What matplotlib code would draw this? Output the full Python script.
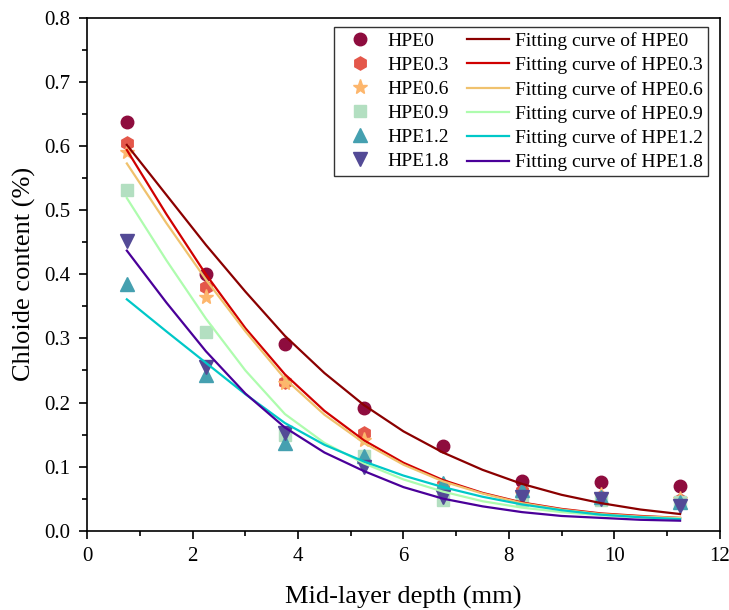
import numpy as np
import matplotlib.pyplot as plt

# measured chloride content (%) at mid-layer depths (mm)
depth = [0.75, 2.25, 3.75, 5.25, 6.75, 8.25, 9.75, 11.25]
hpe0 = [0.638, 0.400, 0.291, 0.191, 0.132, 0.077, 0.076, 0.070]
hpe03 = [0.605, 0.381, 0.232, 0.152, 0.072, 0.062, 0.052, 0.048]
hpe06 = [0.591, 0.365, 0.230, 0.141, 0.070, 0.057, 0.055, 0.050]
hpe09 = [0.531, 0.310, 0.150, 0.116, 0.048, 0.048, 0.048, 0.045]
hpe12 = [0.385, 0.243, 0.137, 0.117, 0.074, 0.063, 0.052, 0.045]
hpe18 = [0.452, 0.255, 0.153, 0.100, 0.053, 0.053, 0.050, 0.039]

# fitting curves
fit_x = [0.75, 1.5, 2.25, 3.0, 3.75, 4.5, 5.25, 6.0, 6.75, 7.5, 8.25, 9.0, 9.75, 10.5, 11.25]
fit0 = [0.602, 0.524, 0.446, 0.373, 0.304, 0.246, 0.196, 0.155, 0.122, 0.095, 0.073, 0.056, 0.043, 0.033, 0.026]
fit03 = [0.594, 0.494, 0.400, 0.316, 0.244, 0.187, 0.141, 0.106, 0.079, 0.059, 0.044, 0.034, 0.027, 0.023, 0.020]
fit06 = [0.573, 0.480, 0.392, 0.311, 0.237, 0.181, 0.137, 0.103, 0.077, 0.058, 0.043, 0.033, 0.026, 0.022, 0.020]
fit09 = [0.519, 0.422, 0.331, 0.250, 0.182, 0.137, 0.105, 0.080, 0.061, 0.046, 0.036, 0.029, 0.024, 0.021, 0.019]
fit12 = [0.361, 0.311, 0.262, 0.213, 0.168, 0.134, 0.108, 0.086, 0.068, 0.053, 0.041, 0.032, 0.025, 0.021, 0.018]
fit18 = [0.437, 0.356, 0.280, 0.214, 0.161, 0.122, 0.093, 0.068, 0.050, 0.038, 0.029, 0.023, 0.020, 0.017, 0.0156]

names = ['HPE0', 'HPE0.3', 'HPE0.6', 'HPE0.9', 'HPE1.2', 'HPE1.8']
points = [hpe0, hpe03, hpe06, hpe09, hpe12, hpe18]
fits = [fit0, fit03, fit06, fit09, fit12, fit18]
markers = ['o', 'h', '*', 's', '^', 'v']
msizes = [9, 9.5, 11, 8, 9.5, 9.5]
mcolors = ['#8E0C3E', '#E4574A', '#FDB66C', '#B3DFC1', '#45A0B0', '#534A96']
lcolors = ['#8B0000', '#D00000', '#F0C26E', '#AEFCAE', '#00C8C8', '#4A0099']

plt.rcParams['font.family'] = 'Liberation Serif'
plt.rcParams['mathtext.fontset'] = 'stix'

fig = plt.figure(figsize=(7.29, 6.10), dpi=100)
ax = fig.add_axes([0.1198, 0.130, 0.8673, 0.8405])

pt_handles, ln_handles = [], []
for i, name in enumerate(names):
    h, = ax.plot(depth, points[i], ls='none', marker=markers[i], ms=msizes[i],
                 color=mcolors[i], mec=mcolors[i], zorder=2, label=name)
    pt_handles.append(h)
for i, name in enumerate(names):
    h, = ax.plot(fit_x, fits[i], '-', lw=1.6, color=lcolors[i], zorder=3,
                 solid_joinstyle='round', label='Fitting curve of ' + name)
    ln_handles.append(h)

ax.set_xlim(0, 12)
ax.set_ylim(0, 0.8)
ax.set_xticks(np.arange(0, 13, 2))
ax.set_xticks(np.arange(1, 12, 2), minor=True)
ax.set_yticks(np.arange(0, 0.81, 0.1))
ax.set_yticks(np.arange(0.05, 0.8, 0.1), minor=True)
ax.yaxis.set_major_formatter(plt.FormatStrFormatter('%.1f'))
ax.tick_params(which='major', direction='out', length=6, width=1.2, labelsize=15, pad=6)
ax.tick_params(which='minor', direction='out', length=3.5, width=1.2)
for s in ax.spines.values():
    s.set_linewidth(1.2)

ax.set_xlabel('Mid-layer depth (mm)', fontsize=19, labelpad=14)
ax.set_ylabel('Chloide content (%)', fontsize=19, labelpad=6)

leg = ax.legend(pt_handles + ln_handles,
                [h.get_label() for h in pt_handles + ln_handles],
                ncol=2, loc='upper right', bbox_to_anchor=(0.9817, 0.982),
                borderaxespad=0, fontsize=14, frameon=True, fancybox=False,
                edgecolor='black', handlelength=2.2, handletextpad=0.3,
                columnspacing=0.9, labelspacing=0.33, borderpad=0.25,
                numpoints=1)
leg.get_frame().set_linewidth(1.0)

fig.savefig('out.png', dpi=100)
